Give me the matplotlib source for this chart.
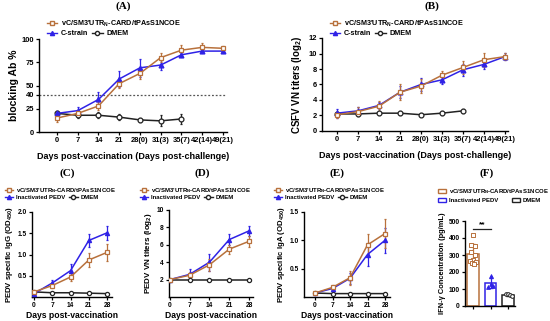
import numpy as np
import matplotlib
matplotlib.use("Agg")
import matplotlib.pyplot as plt
from matplotlib.lines import Line2D
from matplotlib.patches import Patch

plt.rcParams['font.family'] = ['Liberation Sans', 'DejaVu Sans']
plt.rcParams['font.weight'] = 'bold'
plt.rcParams['mathtext.fontset'] = 'custom'
plt.rcParams['mathtext.rm'] = 'Liberation Sans:bold'
plt.rcParams['mathtext.default'] = 'rm'

# ---- data ----
vc_label = r"vC/SM3'UTR$_{N}$-CARD/tPAsS1NCOE"
days_ab = ["0", "7", "14", "21", "28(0)", "31(3)", "35(7)", "42(14)", "49(21)"]
days_pv = [0, 7, 14, 21, 28]

a_vc = [15, 20, 28, 52, 63, 80, 88, 91, 90]
a_vc_err = [4, 4, 4, 5, 6, 5, 6, 5, 3]
a_cs = [20, 23, 35, 57, 69, 72, 83, 87, 87]
a_cs_err = [3, 4, 8, 9, 10, 5, 2, 2, 2]
a_dm = [20, 18, 18, 16, 13, 12, 14]
a_dm_err = [3, 3, 3, 3, 2, 6, 5]

b_vc = [2.1, 2.5, 3.2, 5.0, 5.8, 7.2, 8.2, 9.2, 9.6]
b_vc_err = [0.4, 0.6, 0.7, 1.0, 0.9, 0.5, 0.8, 0.9, 0.5]
b_cs = [2.3, 2.6, 3.3, 5.0, 6.0, 6.6, 7.9, 8.6, 9.6]
b_cs_err = [0.6, 0.5, 0.5, 0.8, 0.9, 0.5, 0.8, 0.6, 0.5]
b_dm = [2.2, 2.2, 2.3, 2.3, 2.1, 2.3, 2.6]
b_dm_err = [0.3, 0.3, 0.3, 0.3, 0.2, 0.3, 0.3]

c_vc = [0.12, 0.27, 0.47, 0.87, 1.05]
c_vc_err = [0.03, 0.05, 0.10, 0.17, 0.20]
c_in = [0.08, 0.33, 0.62, 1.33, 1.51]
c_in_err = [0.03, 0.06, 0.15, 0.15, 0.17]
c_dm = [0.12, 0.10, 0.10, 0.09, 0.08]

d_vc = [2.0, 2.5, 3.7, 5.5, 6.4]
d_vc_err = [0.0, 0.4, 0.7, 0.5, 0.6]
d_in = [2.0, 2.6, 4.0, 6.6, 7.6]
d_in_err = [0.0, 0.6, 1.0, 0.6, 0.6]
d_dm = [2.0, 2.0, 2.0, 2.0, 2.0]

e_vc = [0.07, 0.17, 0.34, 0.92, 1.12]
e_vc_err = [0.02, 0.05, 0.12, 0.20, 0.25]
e_in = [0.07, 0.15, 0.33, 0.75, 1.00]
e_in_err = [0.02, 0.05, 0.10, 0.20, 0.22]
e_dm = [0.07, 0.06, 0.06, 0.06, 0.06]

f_groups = [vc_label, "Inactivated PEDV", "DMEM"]
f_vc = [418, 360, 355, 320, 300, 268, 262, 256, 252, 250]
f_in = [178, 130, 110, 118]
f_dm = [72, 68, 63, 58]

# ---- style ----
BROWN = "#b8713c"
BLUE = "#2f22e6"
BLACK = "#222222"


def style_axes(ax, fs=5.0):
    for s in ["top", "right"]:
        ax.spines[s].set_visible(False)
    for s in ["left", "bottom"]:
        ax.spines[s].set_linewidth(1.0)
    ax.tick_params(direction="out", length=2.5, width=0.9, labelsize=fs, pad=1.2)
    for t in ax.get_xticklabels() + ax.get_yticklabels():
        t.set_fontweight("bold")


def series(ax, x, y, err, color, marker, fill, ms=3.5):
    ax.errorbar(x, y, yerr=err, color=color, lw=1.1, elinewidth=0.9, capsize=1.0,
                marker=marker, ms=ms, mfc=(color if fill else "white"),
                mec=color, mew=0.9, zorder=3)


def legends(fig, x, y, row_gap, label2, fs):
    h_vc = Line2D([], [], color=BROWN, marker="s", mfc="white", ms=3, lw=1)
    h_2 = Line2D([], [], color=BLUE, marker="^", mfc=BLUE, ms=3, lw=1)
    h_dm = Line2D([], [], color=BLACK, marker="o", mfc="white", ms=3, lw=1)
    kw = dict(frameon=False, handlelength=1.4, handletextpad=0.5,
              borderpad=0, borderaxespad=0, loc="upper left",
              prop={"weight": "bold", "size": fs})
    fig.legend([h_vc], [vc_label], bbox_to_anchor=(x / 550, 1 - y / 321), **kw)
    fig.legend([h_2, h_dm], [label2, "DMEM"], ncol=2, columnspacing=0.6,
               bbox_to_anchor=(x / 550, 1 - (y + row_gap) / 321), **kw)


fig = plt.figure(figsize=(5.5, 3.21), dpi=100)

def add_ax(l, r, t, b):
    return fig.add_axes([l / 550, 1 - b / 321, (r - l) / 550, (b - t) / 321])

# ---- (A) ----
ax = add_ax(39, 227, 39, 132)
xa = np.arange(len(days_ab))
ax.axhline(40, color="#555555", ls=(0, (1.5, 1.5)), lw=0.9, zorder=1)
series(ax, xa[:len(a_dm)], a_dm, a_dm_err, BLACK, "o", False)
series(ax, xa, a_cs, a_cs_err, BLUE, "^", True)
series(ax, xa, a_vc, a_vc_err, BROWN, "s", False)
ax.set_xlim(-0.87, 8.2)
ax.set_ylim(0, 100)
ax.set_yticks([0, 25, 40, 50, 75, 100])
ax.set_xticks(xa)
ax.set_xticklabels(days_ab)
ax.set_ylabel("blocking Ab %", fontsize=7.5, fontweight="bold", labelpad=2)
ax.set_xlabel("Days post-vaccination (Days post-challenge)", fontsize=6.5, fontweight="bold", labelpad=6)
style_axes(ax, 5.4)
legends(fig, 47, 19, 11, "C-strain", 5.2)

# ---- (B) ----
ax = add_ax(322, 508, 38, 131)
series(ax, xa[:len(b_dm)], b_dm, b_dm_err, BLACK, "o", False)
series(ax, xa, b_cs, b_cs_err, BLUE, "^", True)
series(ax, xa, b_vc, b_vc_err, BROWN, "s", False)
ax.set_xlim(-0.71, 8.14)
ax.set_ylim(0, 12)
ax.set_yticks(range(0, 13, 2))
ax.set_xticks(xa)
ax.set_xticklabels(days_ab)
ax.set_ylabel(r"CSFV VN titers (log$_2$)", fontsize=7, fontweight="bold", labelpad=3)
ax.set_xlabel("Days post-vaccination (Days post-challenge)", fontsize=6.5, fontweight="bold", labelpad=6)
style_axes(ax, 5.4)
legends(fig, 330, 19, 11, "C-strain", 5.2)

# ---- (C) ----
ax = add_ax(32, 112, 212, 297)
series(ax, days_pv, c_dm, [0.01] * 5, BLACK, "o", False, ms=3)
series(ax, days_pv, c_in, c_in_err, BLUE, "^", True, ms=3)
series(ax, days_pv, c_vc, c_vc_err, BROWN, "s", False, ms=3)
ax.set_xlim(-0.77, 29.9)
ax.set_ylim(0, 2.0)
ax.set_yticks([0.5, 1.0, 1.5, 2.0])
ax.set_xticks(days_pv)
ax.set_ylabel(r"PEDV specific IgG (OD$_{450}$)", fontsize=5.6, fontweight="bold", labelpad=2)
ax.set_xlabel("Days post-vaccination", fontsize=6.2, fontweight="bold", labelpad=1.5)
style_axes(ax, 4.8)
legends(fig, 5, 186, 9, "Inactivated PEDV", 4.3)

# ---- (D) ----
ax = add_ax(169, 253, 210, 297)
series(ax, days_pv, d_dm, [0] * 5, BLACK, "o", False, ms=3)
series(ax, days_pv, d_in, d_in_err, BLUE, "^", True, ms=3)
series(ax, days_pv, d_vc, d_vc_err, BROWN, "s", False, ms=3)
ax.set_xlim(-0.3, 29.4)
ax.set_ylim(0, 10)
ax.set_yticks([2, 4, 6, 8, 10])
ax.set_xticks(days_pv)
ax.set_ylabel(r"PEDV VN titers (log$_2$)", fontsize=5.8, fontweight="bold", labelpad=2)
ax.set_xlabel("Days post-vaccination", fontsize=6.2, fontweight="bold", labelpad=1.5)
style_axes(ax, 4.8)
legends(fig, 140, 186, 9, "Inactivated PEDV", 4.3)

# ---- (E) ----
ax = add_ax(304, 390, 212, 297)
series(ax, days_pv, e_dm, [0.005] * 5, BLACK, "o", False, ms=3)
series(ax, days_pv, e_in, e_in_err, BLUE, "^", True, ms=3)
series(ax, days_pv, e_vc, e_vc_err, BROWN, "s", False, ms=3)
ax.set_xlim(-4.4, 30)
ax.set_ylim(0, 1.5)
ax.set_yticks([0.5, 1.0, 1.5])
ax.set_xticks(days_pv)
ax.set_ylabel(r"PEDV specific IgA (OD$_{450}$)", fontsize=5.6, fontweight="bold", labelpad=2)
ax.set_xlabel("Days post-vaccination", fontsize=6.2, fontweight="bold", labelpad=1.5)
style_axes(ax, 4.8)
legends(fig, 274, 186, 9, "Inactivated PEDV", 4.3)

# ---- (F) ----
ax = add_ax(465, 515, 221, 306)
f_vals = [f_vc, f_in, f_dm]
f_cols = [BROWN, BLUE, BLACK]
f_marks = ["s", "^", "o"]
offsets = [[0, -0.12, 0.12, -0.12, 0.12, 0, -0.18, 0.18, -0.06, 0.06],
           [0, 0.0, -0.15, 0.15],
           [-0.12, 0, 0.12, 0.2]]
for i, vals in enumerate(f_vals):
    m = np.mean(vals)
    sd = np.std(vals, ddof=1)
    ax.bar(i, m, width=0.68, facecolor="white", edgecolor=f_cols[i], lw=1.1, zorder=2)
    ax.errorbar(i, m, yerr=sd, color=f_cols[i], capsize=1.5, elinewidth=0.9, zorder=3)
    ax.scatter(i + np.array(offsets[i]), vals, marker=f_marks[i], s=7,
               facecolors=("white" if f_marks[i] != "^" else f_cols[i]),
               edgecolors=f_cols[i], linewidths=0.7, zorder=4)
ax.plot([0, 1], [455, 455], color=BLACK, lw=0.9)
ax.text(0.5, 455, "**", ha="center", va="bottom", fontsize=6, fontweight="bold")
ax.set_xlim(-0.46, 2.4)
ax.set_ylim(0, 500)
ax.set_yticks(range(0, 501, 100))
ax.set_xticks([0, 1, 2])
ax.set_xticklabels([])
ax.set_ylabel("IFN-γ Concentration (pg/mL)", fontsize=5.4, fontweight="bold", labelpad=2)
style_axes(ax, 4.8)
ph = [Patch(facecolor="white", edgecolor=c, lw=1.0) for c in f_cols]
kw = dict(frameon=False, handlelength=1.4, handleheight=0.5, handletextpad=0.5,
          borderpad=0, borderaxespad=0, loc="upper left", prop={"weight": "bold", "size": 4.3})
fig.legend([ph[0]], [f_groups[0]], bbox_to_anchor=(438 / 550, 1 - 187 / 321), **kw)
fig.legend([ph[1], ph[2]], f_groups[1:], ncol=2, columnspacing=2.2,
           bbox_to_anchor=(438 / 550, 1 - 198 / 321), **kw)

# ---- panel titles ----
for lab, x, y in [("(A)", 123, 6), ("(B)", 432, 6), ("(C)", 67, 173),
                  ("(D)", 202, 173), ("(E)", 337, 173), ("(F)", 487, 173)]:
    fig.text(x / 550, 1 - y / 321, lab, ha="center", va="center",
             fontsize=8, fontweight="bold", family="Liberation Serif")

fig.savefig("out.png", dpi=100)
